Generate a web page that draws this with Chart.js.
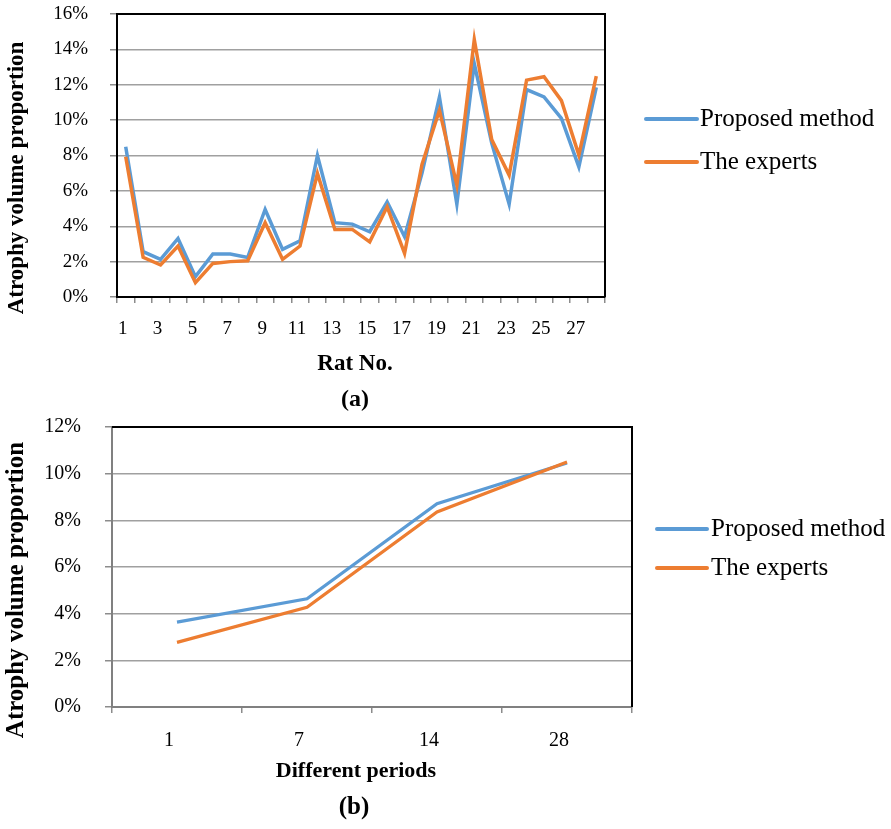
<!DOCTYPE html>
<html>
<head>
<meta charset="utf-8">
<script src="https://cdn.jsdelivr.net/npm/chart.js@4.4.1/dist/chart.umd.min.js"></script>
<style>
  html, body { margin: 0; padding: 0; background: #fff; }
  #wrap { position: relative; width: 891px; height: 829px; }
  canvas { position: absolute; left: 0; }
  #ca { top: 0; }
  #cb { top: 415px; }
</style>
</head>
<body>
<div id="wrap">
  <canvas id="ca" width="891" height="415"></canvas>
  <canvas id="cb" width="891" height="414"></canvas>
</div>
<script>
// (a) atrophy volume proportion per rat, in percent
const ratLabels = ['1','2','3','4','5','6','7','8','9','10','11','12','13','14','15','16','17','18','19','20','21','22','23','24','25','26','27','28'];
const ratProposed = [8.49, 2.56, 2.13, 3.31, 1.15, 2.43, 2.43, 2.24, 4.95, 2.69, 3.18, 8.0, 4.2, 4.12, 3.69, 5.38, 3.41, 7.0, 11.3, 5.25, 13.2, 8.7, 5.25, 11.73, 11.31, 10.1, 7.36, 11.85];
const ratExperts  = [7.93, 2.24, 1.81, 2.88, 0.81, 1.9, 2.0, 2.05, 4.2, 2.13, 2.88, 6.99, 3.82, 3.82, 3.12, 5.1, 2.47, 7.5, 10.56, 6.33, 14.56, 8.9, 6.89, 12.26, 12.45, 11.1, 8.02, 12.49];

// (b) mean atrophy volume proportion per period, in percent
const periodLabels = ['1','7','14','28'];
const periodProposed = [3.64, 4.64, 8.71, 10.46];
const periodExperts  = [2.77, 4.27, 8.36, 10.5];

const seriesNames = ['Proposed method', 'The experts'];
const BLUE = '#5B9BD5';
const ORANGE = '#ED7D31';
const SERIF = '"Liberation Serif", "Times New Roman", serif';

// draws frame, axis titles, legend and caption around the plot
function decorPlugin(cfg) {
  return {
    id: 'decor',
    beforeDatasetsDraw(chart) {
      const a = chart.chartArea, ctx = chart.ctx;
      ctx.save();
      ctx.strokeStyle = '#000';
      ctx.lineWidth = 2;
      ctx.beginPath();
      ctx.moveTo(a.left, a.top); ctx.lineTo(a.right, a.top); ctx.lineTo(a.right, a.bottom);
      ctx.stroke();
      ctx.restore();
    },
    afterDraw(chart) {
      const ctx = chart.ctx;
      ctx.save();
      ctx.fillStyle = '#000';
      ctx.textAlign = 'center';
      ctx.textBaseline = 'middle';
      // y title
      ctx.save();
      ctx.translate(cfg.yTitle.x, cfg.yTitle.y);
      ctx.rotate(-Math.PI / 2);
      ctx.font = 'bold ' + cfg.yTitle.size + 'px ' + SERIF;
      ctx.fillText('Atrophy volume proportion', 0, 0);
      ctx.restore();
      // x title and caption
      ctx.font = 'bold ' + cfg.xTitle.size + 'px ' + SERIF;
      ctx.fillText(cfg.xTitle.text, cfg.xTitle.x, cfg.xTitle.y);
      ctx.font = 'bold ' + cfg.caption.size + 'px ' + SERIF;
      ctx.fillText(cfg.caption.text, cfg.caption.x, cfg.caption.y);
      // legend
      const colors = [BLUE, ORANGE];
      ctx.textAlign = 'left';
      ctx.font = cfg.legend.size + 'px ' + SERIF;
      cfg.legend.ys.forEach((y, i) => {
        ctx.strokeStyle = colors[i];
        ctx.lineWidth = 4;
        ctx.lineCap = 'round';
        ctx.beginPath();
        ctx.moveTo(cfg.legend.x0, y); ctx.lineTo(cfg.legend.x1, y);
        ctx.stroke();
        ctx.fillText(seriesNames[i], cfg.legend.tx, y);
      });
      ctx.restore();
    }
  };
}

function makeChart(id, labels, proposed, experts, opt) {
  return new Chart(document.getElementById(id), {
    type: 'line',
    data: {
      labels: labels,
      datasets: [
        { label: seriesNames[0], data: proposed, borderColor: BLUE, borderWidth: opt.lw, pointRadius: 0, tension: 0, order: 2 },
        { label: seriesNames[1], data: experts, borderColor: ORANGE, borderWidth: opt.lw, pointRadius: 0, tension: 0, order: 1 }
      ]
    },
    options: {
      responsive: false,
      devicePixelRatio: 1,
      animation: false,
      layout: { padding: { left: 0, top: opt.area.top, right: opt.canvasW - opt.area.right, bottom: 0 } },
      plugins: { legend: { display: false }, tooltip: { enabled: false } },
      scales: {
        x: {
          type: 'category',
          offset: true,
          afterFit(s) {
            s.height = opt.canvasH - opt.area.bottom;
            s.paddingLeft = 0; s.paddingRight = 0;
          },
          grid: { offset: true, drawOnChartArea: false, drawTicks: true, tickLength: 6, tickColor: '#8c8c8c', lineWidth: 1.5 },
          border: { display: true, color: opt.xAxisColor, width: 2 },
          ticks: {
            autoSkip: false, maxRotation: 0, minRotation: 0,
            padding: opt.xTickPad, labelOffset: opt.xLabelOffset,
            color: '#000', font: { family: SERIF, size: opt.tickSize },
            callback(v, i) { return (i % opt.labelEvery === 0) ? labels[i] : ''; }
          }
        },
        y: {
          min: 0, max: opt.yMax,
          afterFit(s) {
            s.width = opt.area.left;
            s.paddingTop = 0; s.paddingBottom = 0;
          },
          grid: { color: '#a0a0a0', lineWidth: 1.5, drawTicks: true, tickLength: 7, tickColor: '#8c8c8c' },
          border: { display: true, color: opt.yAxisColor, width: 2 },
          ticks: {
            stepSize: 2, padding: opt.yTickPad,
            color: '#000', font: { family: SERIF, size: opt.tickSize },
            callback(v) { return v + '%'; }
          }
        }
      }
    },
    plugins: [decorPlugin(opt.decor)]
  });
}

makeChart('ca', ratLabels, ratProposed, ratExperts, {
  canvasW: 891, canvasH: 415, lw: 3.5,
  area: { left: 117, top: 14, right: 605, bottom: 297 },
  yMax: 16, tickSize: 19, labelEvery: 2, xTickPad: 15, xLabelOffset: -3, yTickPad: 22,
  xAxisColor: '#000', yAxisColor: '#000',
  decor: {
    yTitle: { x: 17, y: 178, size: 23 },
    xTitle: { text: 'Rat No.', x: 355, y: 364, size: 23 },
    caption: { text: '(a)', x: 355, y: 400, size: 24 },
    legend: { x0: 646, x1: 697, tx: 700, ys: [119, 162], size: 25 }
  }
});

makeChart('cb', periodLabels, periodProposed, periodExperts, {
  canvasW: 891, canvasH: 414, lw: 3.2,
  area: { left: 112, top: 12, right: 632, bottom: 292 },
  yMax: 12, tickSize: 20, labelEvery: 1, xTickPad: 16, xLabelOffset: -8, yTickPad: 24,
  xAxisColor: '#808080', yAxisColor: '#808080',
  decor: {
    yTitle: { x: 17, y: 175, size: 25 },
    xTitle: { text: 'Different periods', x: 356, y: 356, size: 22 },
    caption: { text: '(b)', x: 354, y: 393, size: 25 },
    legend: { x0: 657, x1: 707, tx: 711, ys: [114, 153], size: 25 }
  }
});
</script>
</body>
</html>
